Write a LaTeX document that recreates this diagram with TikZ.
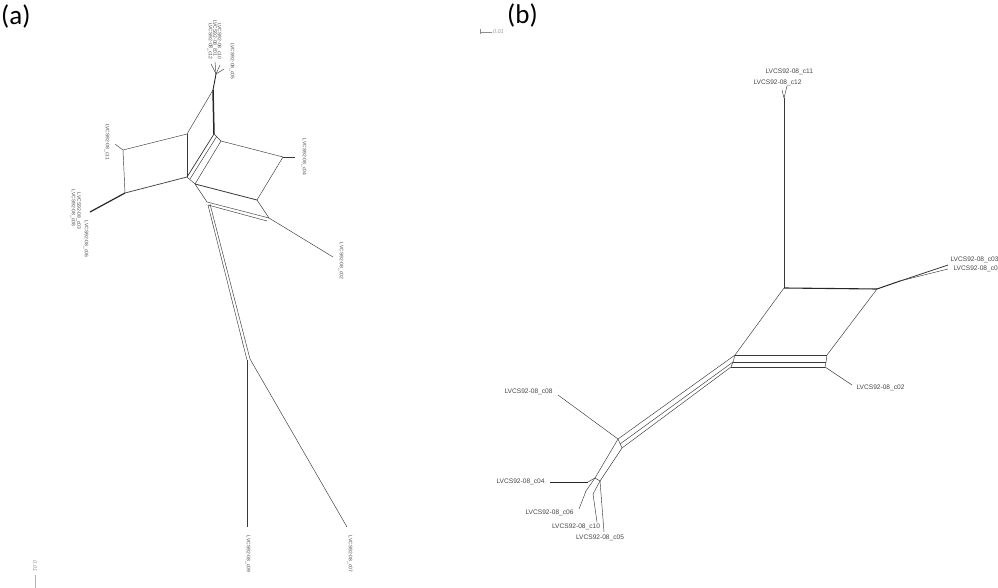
\documentclass[tikz,border=0pt]{standalone}
\usepackage{fontspec}
\setmainfont{Carlito}
\newfontfamily\labfont{Liberation Sans}
\begin{document}
\begin{tikzpicture}[x=1pt,y=-1pt,
  net/.style={draw=black!78, line width=0.45pt},
  netthick/.style={draw=black!85, line width=1.2pt},
  alab/.style={font=\labfont\fontsize{5}{5}\selectfont, text=black!70, inner sep=0.3pt, rotate=-90},
  blab/.style={font=\labfont\fontsize{6.6}{6.6}\selectfont, text=black!72, inner sep=0.3pt},
  scalelab/.style={font=\labfont\itshape\fontsize{5.5}{5.5}\selectfont, text=black!40, inner sep=0.3pt},
  panel/.style={font=\fontsize{27}{27}\selectfont, inner sep=0pt, anchor=north west}]
\useasboundingbox (0,0) rectangle (998,588);
\path[clip] (0,0) rectangle (998,588);
\fill[white] (0,0) rectangle (998,588);

% panel labels
\node[panel] (pa) at (1,5) {(a)};
\node[panel] (pb) at (507,4) {(b)};

% ================= (a) =================
\coordinate (aJ) at (216,74);
\coordinate (at1) at (211,64);
\coordinate (at2) at (215,62);
\coordinate (at3) at (220,65);
\coordinate (at4) at (224,69);
\coordinate (aT0) at (213,90);
\coordinate (aT1) at (214,134);
\coordinate (aA1) at (123,150);
\coordinate (aA2) at (187,134);
\coordinate (aA3) at (187,177);
\coordinate (aA3b) at (190,179);
\coordinate (aT1b) at (217,136);
\coordinate (aA4) at (125,193);
\coordinate (aL) at (90,212);
\coordinate (at11) at (115,144);
\coordinate (aB1) at (221,141);
\coordinate (aB2) at (283,157);
\coordinate (aB3) at (257,200);
\coordinate (aB4) at (195,184);
\coordinate (at04) at (295,157);
\coordinate (aC1) at (269,218);
\coordinate (aC1b) at (267,221);
\coordinate (aD1) at (207,202);
\coordinate (aD1b) at (208,205);
\coordinate (aD2) at (210,204);
\coordinate (at02) at (333,257);
\coordinate (aE1) at (247,360);
\coordinate (aE1b) at (250,359);
\coordinate (at09) at (247,527);
\coordinate (at07) at (347,527);

\draw[net] (aJ) -- (at1);
\draw[net] (aJ) -- (at2);
\draw[net] (aJ) -- (at3);
\draw[net] (aJ) -- (at4);
\draw[netthick, line width=0.9pt] (aJ) -- (aT0);
\draw[netthick, line width=1.5pt] (aT0) -- (aT1);
\draw[net] (aT0) -- (aA2);
\draw[net] (aA2) -- (aA1);
\draw[net] (aA1) -- (aA4);
\draw[net, line width=0.7pt] (aA4) -- (aA3);
\draw[net] (aA3) -- (aA2);
\draw[net] (aA1) -- (at11);
\draw[netthick] (aA4) -- (aL);
\draw[net, line width=0.7pt] (aT1) -- (aA3);
\draw[net] (aT1b) -- (aA3b);
\draw[net] (aT1) -- (aB1);
\draw[net] (aA3) -- (aB4);
\draw[net] (aB1) -- (aB2);
\draw[net] (aB2) -- (aB3);
\draw[net, line width=0.8pt] (aB3) -- (aB4);
\draw[net] (aB1) -- (aB4);
\draw[net] (aB2) -- (at04);
\draw[net] (aB3) -- (aC1);
\draw[net] (aB4) -- (aD1);
\draw[net] (aD1) -- (aC1);
\draw[net] (aD1b) -- (aC1b);
\draw[net] (aC1) -- (at02);
\draw[net] (aD1b) -- (aE1);
\draw[net] (aD2) -- (aE1b);
\draw[net, line width=0.7pt] (aE1) -- (at09);
\draw[net] (aE1b) -- (at07);

\node[alab, anchor=east] (lc12) at (210,60) {LVCS92-08\_c12};
\node[alab, anchor=east] (lc01) at (214.5,57) {LVCS92-08\_c01};
\node[alab, anchor=east] (lc10) at (219,60) {LVCS92-08\_c10};
\node[alab, anchor=east] (lc05) at (232,80) {LVCS92-08\_c05};
\node[alab] (lc11) at (107,142) {LVCS92-08\_c11};
\node[alab] (lc08) at (73,208) {LVCS92-08\_c08};
\node[alab] (lc03) at (78.5,211) {LVCS92-08\_c03};
\node[alab] (lc06) at (86,239) {LVCS92-08\_c06};
\node[alab] (lc04) at (304,157) {LVCS92-08\_c04};
\node[alab] (lc02) at (341,261) {LVCS92-08\_c02};
\node[alab] (lc09) at (248,554) {LVCS92-08\_c09};
\node[alab] (lc07) at (350,554) {LVCS92-08\_c07};

% scale (a)
\node[scalelab, rotate=-90] (sa) at (35,566) {0.01};
\coordinate (sa1) at (35,575);
\coordinate (sa2) at (35,588);
\draw[draw=black!30, line width=0.5pt] (sa1) -- (sa2);

% ================= (b) =================
\coordinate (bJ) at (784,98);
\coordinate (bt11) at (787,86);
\coordinate (bt12) at (782,90);
\coordinate (bP1) at (784,288);
\coordinate (bP2) at (877,289);
\coordinate (bK) at (900,281);
\coordinate (bt03) at (948,265);
\coordinate (bt01) at (948,269);
\coordinate (bQ1) at (735,355);
\coordinate (bQ2) at (827,355);
\coordinate (bR1) at (733,362);
\coordinate (bR2) at (826,362);
\coordinate (bS1) at (731,367);
\coordinate (bS2) at (825,367);
\coordinate (bt02) at (852,385);
\coordinate (bV1) at (618,439);
\coordinate (bV2) at (620,444);
\coordinate (bV3) at (622,448);
\coordinate (bt08) at (558,395);
\coordinate (bW1) at (595,478);
\coordinate (bW2) at (600,481);
\coordinate (bX) at (588,482);
\coordinate (bt04) at (550,482);
\coordinate (bY6) at (586,491);
\coordinate (bt06) at (579,509);
\coordinate (bY10) at (593,494);
\coordinate (bt10) at (597,522);
\coordinate (bt05) at (604,532);

\draw[net] (bJ) -- (bt11);
\draw[net] (bJ) -- (bt12);
\draw[net, line width=0.6pt] (bJ) -- (bP1);
\draw[netthick, line width=1.1pt] (bP1) -- (bP2);
\draw[netthick, line width=1.0pt] (bP2) -- (bK);
\draw[net, line width=0.8pt] (bK) -- (bt03);
\draw[net] (bK) -- (bt01);
\draw[net] (bP1) -- (bQ1);
\draw[net] (bP2) -- (bQ2);
\draw[net] (bQ1) -- (bQ2);
\draw[net] (bR1) -- (bR2);
\draw[net] (bS1) -- (bS2);
\draw[net] (bQ1) -- (bR1);
\draw[net] (bR1) -- (bS1);
\draw[net] (bQ2) -- (bR2);
\draw[net] (bR2) -- (bS2);
\draw[net] (bS2) -- (bt02);
\draw[net] (bQ1) -- (bV1);
\draw[net] (bR1) -- (bV2);
\draw[net] (bS1) -- (bV3);
\draw[net] (bV1) -- (bt08);
\draw[net] (bV1) -- (bV3);
\draw[net] (bV1) -- (bW1);
\draw[net] (bV3) -- (bW2);
\draw[net] (bW1) -- (bW2);
\draw[net] (bW1) -- (bX);
\draw[netthick, line width=1.0pt] (bX) -- (bt04);
\draw[net] (bW1) -- (bY6);
\draw[net] (bY6) -- (bt06);
\draw[net] (bW2) -- (bY10);
\draw[net] (bY10) -- (bt10);
\draw[net] (bW2) -- (bt05);

\node[blab, anchor=south west] (bl11) at (765,75) {LVCS92-08\_c11};
\node[blab, anchor=south west] (bl12) at (753,86) {LVCS92-08\_c12};
\node[blab, anchor=west] (bl03) at (950,260) {LVCS92-08\_c03};
\node[blab, anchor=west] (bl01) at (953,268.5) {LVCS92-08\_c01};
\node[blab, anchor=west] (bl02) at (856,388) {LVCS92-08\_c02};
\node[blab, anchor=east] (bl08) at (553,392) {LVCS92-08\_c08};
\node[blab, anchor=east] (bl04) at (545,482) {LVCS92-08\_c04};
\node[blab, anchor=east] (bl06) at (574,513) {LVCS92-08\_c06};
\node[blab] (bl10) at (576,527) {LVCS92-08\_c10};
\node[blab] (bl05) at (600,538) {LVCS92-08\_c05};

% scale (b)
\coordinate (sb1) at (480,32);
\coordinate (sb2) at (492,32);
\coordinate (sb1t) at (480,29.5);
\coordinate (sb1u) at (480,34.5);
\draw[draw=black!45, line width=0.5pt] (sb1) -- (sb2);
\draw[draw=black!45, line width=0.5pt] (sb1t) -- (sb1u);
\node[scalelab, anchor=west] (sb) at (492.5,32) {0.01};
\end{tikzpicture}
\end{document}
